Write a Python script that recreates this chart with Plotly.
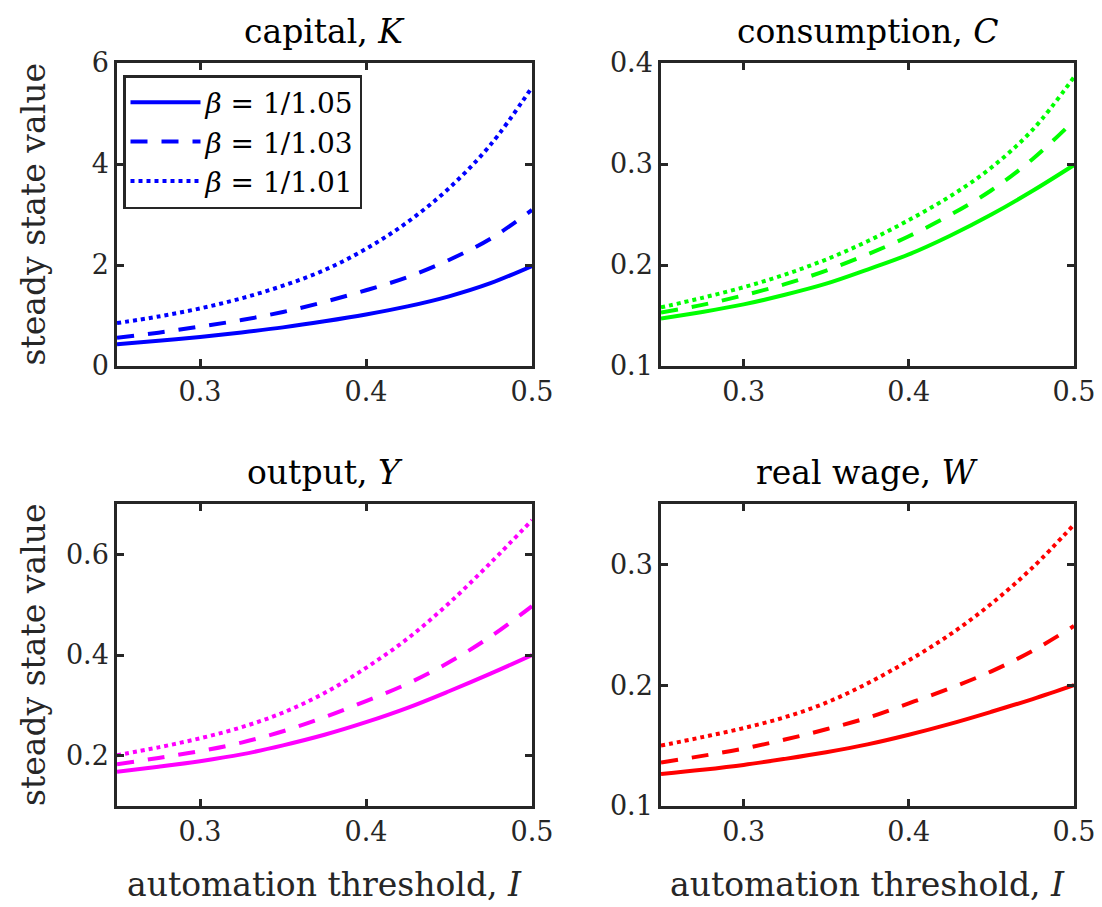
import plotly.graph_objects as go

# automation threshold values (x)
I_vals = [0.25, 0.275, 0.30, 0.325, 0.35, 0.375, 0.40, 0.425, 0.45, 0.475, 0.50]

# capital K
K_105 = [0.43, 0.50, 0.575, 0.665, 0.765, 0.885, 1.02, 1.18, 1.38, 1.64, 1.98]
K_103 = [0.56, 0.66, 0.78, 0.91, 1.07, 1.27, 1.50, 1.76, 2.10, 2.52, 3.09]
K_101 = [0.85, 0.98, 1.14, 1.34, 1.59, 1.90, 2.32, 2.85, 3.52, 4.38, 5.52]

# consumption C
C_105 = [0.147, 0.1535, 0.161, 0.1705, 0.1815, 0.1955, 0.2105, 0.229, 0.250, 0.2735, 0.299]
C_103 = [0.153, 0.1605, 0.170, 0.181, 0.1945, 0.2105, 0.2285, 0.2495, 0.274, 0.305, 0.343]
C_101 = [0.158, 0.1675, 0.178, 0.1905, 0.2055, 0.2235, 0.2445, 0.268, 0.2965, 0.334, 0.386]

# output Y
Y_105 = [0.168, 0.178, 0.189, 0.2025, 0.2205, 0.2415, 0.2665, 0.295, 0.328, 0.363, 0.400]
Y_103 = [0.183, 0.1955, 0.209, 0.226, 0.2485, 0.2765, 0.3085, 0.343, 0.3855, 0.4365, 0.497]
Y_101 = [0.201, 0.2165, 0.2345, 0.2565, 0.2855, 0.3245, 0.3745, 0.4325, 0.503, 0.583, 0.668]

# real wage W
W_105 = [0.1265, 0.130, 0.134, 0.139, 0.1445, 0.151, 0.159, 0.168, 0.178, 0.1885, 0.200]
W_103 = [0.136, 0.1415, 0.1475, 0.155, 0.1635, 0.173, 0.185, 0.1975, 0.2115, 0.2285, 0.249]
W_101 = [0.150, 0.157, 0.1645, 0.1735, 0.1855, 0.2015, 0.2205, 0.242, 0.2675, 0.2975, 0.333]

legend_labels = ["<i>β</i> = 1/1.05", "<i>β</i> = 1/1.03", "<i>β</i> = 1/1.01"]
titles = ["capital, <i>K</i>", "consumption, <i>C</i>", "output, <i>Y</i>", "real wage, <i>W</i>"]
x_ticks = [0.3, 0.4, 0.5]
yticks_K = [0, 2, 4, 6]
yticks_C = [0.1, 0.2, 0.3, 0.4]
yticks_Y = [0.2, 0.4, 0.6]
yticks_W = [0.1, 0.2, 0.3]

FONT = "DejaVu Serif"
AX = "#262626"
dashes = ["solid", "17px,14px", "4px,4px"]

fig = go.Figure()

panels = [
    ("x", "y", [K_105, K_103, K_101], "#0000ff", True),
    ("x2", "y2", [C_105, C_103, C_101], "#00ff00", False),
    ("x3", "y3", [Y_105, Y_103, Y_101], "#ff00ff", False),
    ("x4", "y4", [W_105, W_103, W_101], "#ff0000", False),
]
for xa, ya, series, col, show in panels:
    for s, d, lab in zip(series, dashes, legend_labels):
        fig.add_trace(go.Scatter(
            x=I_vals, y=s, mode="lines", xaxis=xa, yaxis=ya,
            line=dict(color=col, width=4, dash=d, shape="spline", smoothing=1.0),
            name=lab, showlegend=show))

dx1 = [117/1102, 532/1102]
dx2 = [661/1102, 1074/1102]
dy1 = [1-366/907, 1-63/907]
dy2 = [1-806/907, 1-504/907]

def xax(domain, anchor):
    return dict(domain=domain, anchor=anchor, range=[0.25, 0.5], tickvals=x_ticks,
                tickformat=".1f", ticks="inside", ticklen=7, tickwidth=2.5, tickcolor=AX,
                showline=True, linecolor=AX, linewidth=2.5, mirror="ticks",
                showgrid=False, zeroline=False, automargin=False,
                tickfont=dict(family=FONT, size=27, color=AX))

def yax(domain, anchor, rng, tv, fmt):
    return dict(domain=domain, anchor=anchor, range=rng, tickvals=tv,
                tickformat=fmt, ticks="inside", ticklen=7, tickwidth=2.5, tickcolor=AX,
                showline=True, linecolor=AX, linewidth=2.5, mirror="ticks",
                showgrid=False, zeroline=False, automargin=False,
                tickfont=dict(family=FONT, size=27, color=AX))

fig.update_layout(
    width=1102, height=907,
    margin=dict(l=0, r=0, t=0, b=0),
    paper_bgcolor="white", plot_bgcolor="white",
    font=dict(family=FONT, size=27, color="black"),
    xaxis=xax(dx1, "y"), yaxis=yax(dy1, "x", [0, 6], yticks_K, "d"),
    xaxis2=xax(dx2, "y2"), yaxis2=yax(dy1, "x2", [0.1, 0.4], yticks_C, ".1f"),
    xaxis3=xax(dx1, "y3"), yaxis3=yax(dy2, "x3", [0.1, 0.7], yticks_Y, ".1f"),
    xaxis4=xax(dx2, "y4"), yaxis4=yax(dy2, "x4", [0.1, 0.35], yticks_W, ".1f"),
    legend=dict(x=123/1102, y=1-75/907, xanchor="left", yanchor="top",
                bgcolor="white", bordercolor=AX, borderwidth=2.5,
                font=dict(family=FONT, size=28, color="black"),
                tracegroupgap=0, itemwidth=70),
    showlegend=True,
)

# panel titles
for t, cx, ty in zip(titles, [324.5, 867.5, 324.5, 867.5], [31, 31, 473, 473]):
    fig.add_annotation(text=t, x=cx/1102, y=1-ty/907, xref="paper", yref="paper",
                       showarrow=False, xanchor="center", yanchor="middle",
                       font=dict(family=FONT, size=33, color="black"))

# axis titles
for cx in [324.5, 867.5]:
    fig.add_annotation(text="automation threshold, <i>I</i>", x=cx/1102, y=1-884/907,
                       xref="paper", yref="paper", showarrow=False,
                       xanchor="center", yanchor="middle",
                       font=dict(family=FONT, size=33, color=AX))
for cy in [214.5, 655]:
    fig.add_annotation(text="steady state value", x=33/1102, y=1-cy/907,
                       xref="paper", yref="paper", showarrow=False, textangle=-90,
                       xanchor="center", yanchor="middle",
                       font=dict(family=FONT, size=33, color=AX))

fig.write_html("out.html")
